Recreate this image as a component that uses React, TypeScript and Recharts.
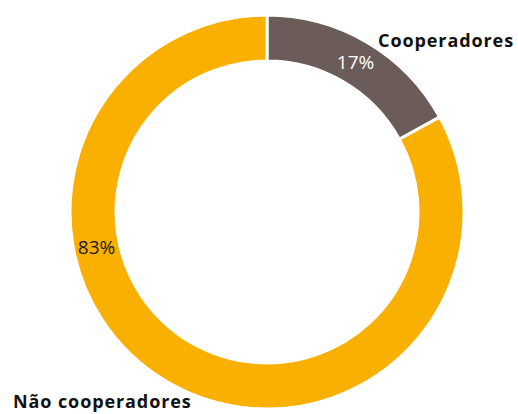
import React from "react";
import { PieChart, Pie, Cell } from "recharts";

const categories = ["Cooperadores", "Não cooperadores"];
const shares = [17, 83];
const colors = ["#6b5c59", "#f9b000"];

const data = categories.map((name, i) => ({ name, value: shares[i] }));

const RAD = Math.PI / 180;
const FONT = "'Open Sans', 'Noto Sans', sans-serif";

// percentage label: 17% sits on mid angle, 83% is placed on the left of the ring
const pctAngle = (index: number, midAngle: number) => (index === 0 ? midAngle : 191.5);

const renderLabel = (props: any) => {
  const { cx, cy, innerRadius, outerRadius, midAngle, index, value, name } = props;
  const r = (innerRadius + outerRadius) / 2;
  const a = pctAngle(index, midAngle) * RAD;
  const x = cx + r * Math.cos(a);
  const y = cy - r * Math.sin(a);
  const nameProps =
    index === 0
      ? { x: cx + outerRadius + 50, y: cy - outerRadius + 32, textAnchor: "end" as const }
      : { x: cx - outerRadius - 57, y: cy + outerRadius - 1, textAnchor: "start" as const };
  return (
    <g key={`lbl-${index}`}>
      <text
        x={x}
        y={y}
        textAnchor="middle"
        dominantBaseline="central"
        fill={index === 0 ? "#ffffff" : "#1a1a1a"}
        fontSize={19}
        fontWeight={400}
        fontFamily={FONT}
      >
        {`${value}%`}
      </text>
      <text
        {...nameProps}
        fill="#111111"
        fontSize={18}
        fontWeight={700}
        letterSpacing={0.9}
        fontFamily={FONT}
      >
        {name}
      </text>
    </g>
  );
};

export default function App() {
  return (
    <div style={{ position: "absolute", left: 0, top: 0, width: 518, height: 414, background: "#fff" }}>
      <PieChart width={518} height={414} margin={{ top: 0, right: 0, bottom: 0, left: 0 }}>
        <Pie
          data={data}
          dataKey="value"
          nameKey="name"
          cx={267}
          cy={212}
          innerRadius={151}
          outerRadius={197}
          startAngle={90}
          endAngle={-270}
          stroke="#ffffff"
          strokeWidth={3}
          label={renderLabel}
          labelLine={false}
          isAnimationActive={false}
        >
          {data.map((d, i) => (
            <Cell key={d.name} fill={colors[i]} />
          ))}
        </Pie>
      </PieChart>
    </div>
  );
}
